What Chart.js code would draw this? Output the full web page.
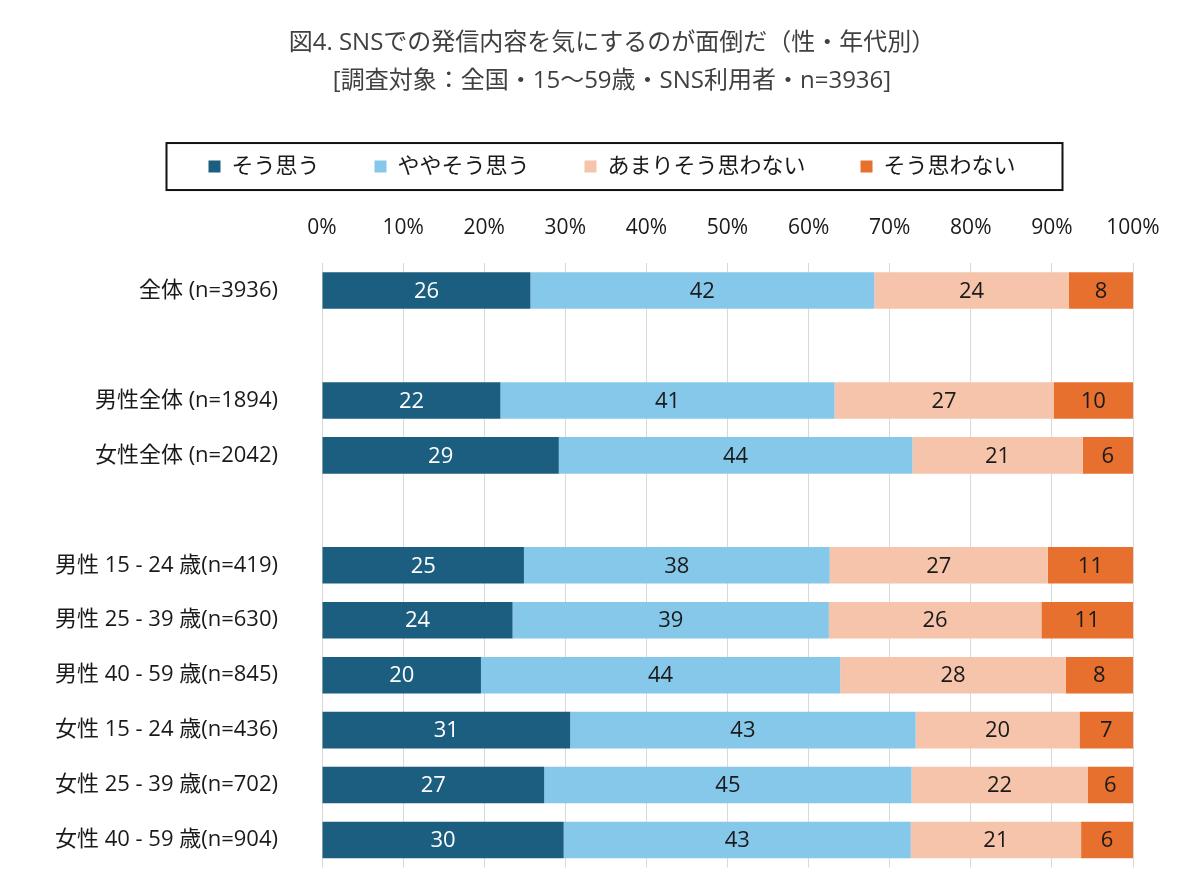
<!DOCTYPE html>
<html lang="ja">
<head>
<meta charset="utf-8">
<script src="https://cdn.jsdelivr.net/npm/chart.js@4.4.1/dist/chart.umd.min.js"></script>
<style>
html,body{margin:0;padding:0;background:#fff;}
#wrap{width:1200px;height:895px;position:relative;}
</style>
</head>
<body>
<div id="wrap"><canvas id="c"></canvas></div>
<script>
const titleLines = ['図4. SNSでの発信内容を気にするのが面倒だ（性・年代別）', '[調査対象：全国・15～59歳・SNS利用者・n=3936]'];
const categories = ['全体 (n=3936)', '', '男性全体 (n=1894)', '女性全体 (n=2042)', '',
  '男性 15 - 24 歳(n=419)', '男性 25 - 39 歳(n=630)', '男性 40 - 59 歳(n=845)',
  '女性 15 - 24 歳(n=436)', '女性 25 - 39 歳(n=702)', '女性 40 - 59 歳(n=904)'];
const seriesNames = ['そう思う', 'ややそう思う', 'あまりそう思わない', 'そう思わない'];
const soOmou          = [25.7, null, 22.0, 29.2, null, 24.9, 23.5, 19.6, 30.6, 27.4, 29.8];
const yayaSoOmou      = [42.4, null, 41.2, 43.6, null, 37.7, 39.0, 44.3, 42.6, 45.3, 42.8];
const amariSoOmowanai = [24.0, null, 27.0, 21.0, null, 26.9, 26.2, 27.8, 20.2, 21.7, 21.0];
const soOmowanai      = [7.9, null, 9.8, 6.2, null, 10.5, 11.3, 8.3, 6.6, 5.6, 6.4];
const xTickLabels = ['0%', '10%', '20%', '30%', '40%', '50%', '60%', '70%', '80%', '90%', '100%'];

const colors = ['#1b5e80', '#85c8ea', '#f5c4aa', '#e8702f'];
const labelColors = ['#ffffff', '#1a1a1a', '#1a1a1a', '#1a1a1a'];
const FONT = "'Open Sans', 'Noto Sans CJK JP', sans-serif";

const legendBox = {
  id: 'legendBox',
  afterDraw(chart) {
    const lg = chart.legend;
    if (!lg || !lg.legendHitBoxes || !lg.legendHitBoxes.length) return;
    const hb = lg.legendHitBoxes;
    const first = hb[0], last = hb[hb.length - 1];
    const cy = first.top + first.height / 2;
    const left = first.left - 42, right = last.left + last.width + 47;
    const ctx = chart.ctx;
    ctx.save();
    ctx.strokeStyle = '#111';
    ctx.lineWidth = 2;
    ctx.strokeRect(left, cy - 23.5, right - left, 47);
    ctx.restore();
  }
};

const barLabels = {
  id: 'barLabels',
  afterDatasetsDraw(chart) {
    const ctx = chart.ctx;
    ctx.save();
    ctx.font = '22px ' + FONT;
    ctx.textAlign = 'center';
    ctx.textBaseline = 'middle';
    chart.data.datasets.forEach((ds, i) => {
      const meta = chart.getDatasetMeta(i);
      meta.data.forEach((bar, j) => {
        const v = ds.data[j];
        if (v === null || v === undefined) return;
        ctx.fillStyle = labelColors[i];
        ctx.fillText(String(Math.round(v)), (bar.x + bar.base) / 2, bar.y + 1);
      });
    });
    ctx.restore();
  }
};

const seriesData = [soOmou, yayaSoOmou, amariSoOmowanai, soOmowanai];

new Chart(document.getElementById('c'), {
  type: 'bar',
  data: {
    labels: categories,
    datasets: seriesNames.map((n, i) => ({
      label: n,
      data: seriesData[i],
      backgroundColor: colors[i],
      borderWidth: 0,
      barPercentage: 0.665,
      categoryPercentage: 1.0
    }))
  },
  options: {
    indexAxis: 'y',
    responsive: true,
    maintainAspectRatio: false,
    animation: false,
    layout: { padding: { left: 40, right: 16, top: 0, bottom: 27.5 } },
    plugins: {
      title: {
        display: true,
        text: titleLines,
        color: '#404040',
        font: { family: FONT, size: 24, weight: 'normal', lineHeight: 1.58 },
        padding: { top: 24.5, bottom: 0.2 }
      },
      legend: {
        display: true,
        position: 'top',
        labels: {
          color: '#1a1a1a',
          font: { family: FONT, size: 22 },
          boxWidth: 12,
          boxHeight: 12,
          padding: 55
        }
      },
      tooltip: { enabled: false }
    },
    scales: {
      x: {
        position: 'top',
        stacked: true,
        min: 0,
        max: 100,
        ticks: {
          stepSize: 10,
          color: '#1a1a1a',
          font: { family: FONT, size: 21 },
          padding: 22,
          callback: (v, i) => xTickLabels[i]
        },
        grid: { color: '#d9d9d9', lineWidth: 1, drawTicks: false },
        border: { display: false },
        afterFit: (s) => { s.height = 75.5; }
      },
      y: {
        stacked: true,
        ticks: {
          color: '#1a1a1a',
          font: { family: FONT, size: 22 },
          padding: 0,
          autoSkip: false
        },
        grid: {
          display: true,
          drawOnChartArea: false,
          drawTicks: true,
          tickLength: 44,
          color: 'rgba(0,0,0,0)',
          tickColor: 'rgba(0,0,0,0)'
        },
        border: { display: false },
        afterFit: (s) => { s.width = 282; }
      },
      yRight: {
        type: 'linear',
        position: 'right',
        display: true,
        min: 0,
        max: 1,
        ticks: { display: false },
        grid: { display: false },
        border: { display: false },
        afterFit: (s) => { s.width = 51; }
      }
    }
  },
  plugins: [legendBox, barLabels]
});
</script>
</body>
</html>
